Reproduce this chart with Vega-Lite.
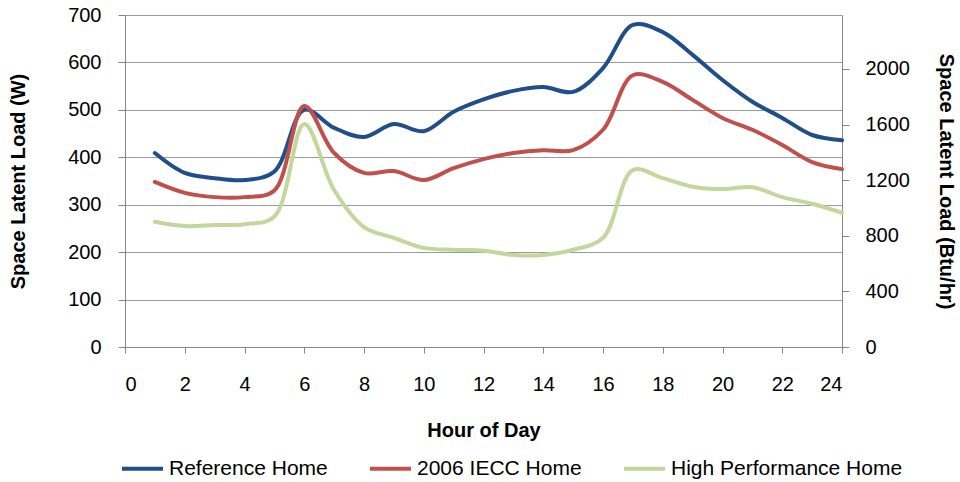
{
  "$schema": "https://vega.github.io/schema/vega-lite/v6.json",
  "width": 717,
  "height": 332,
  "autosize": {"type": "none"},
  "padding": {"top": 15, "left": 125, "right": 118, "bottom": 135},
  "background": "white",
  "config": {
    "view": {"stroke": null},
    "font": "Liberation Sans",
    "axis": {"labelFont": "Liberation Sans", "titleFont": "Liberation Sans", "labelColor": "#000", "titleColor": "#000"}
  },
  "data": {
    "values": [
      {"hour": 1, "series": "Reference Home", "load": 409},
      {"hour": 2, "series": "Reference Home", "load": 367},
      {"hour": 3, "series": "Reference Home", "load": 356},
      {"hour": 4, "series": "Reference Home", "load": 352},
      {"hour": 5, "series": "Reference Home", "load": 370},
      {"hour": 6, "series": "Reference Home", "load": 500},
      {"hour": 7, "series": "Reference Home", "load": 462},
      {"hour": 8, "series": "Reference Home", "load": 443},
      {"hour": 9, "series": "Reference Home", "load": 470},
      {"hour": 10, "series": "Reference Home", "load": 455},
      {"hour": 11, "series": "Reference Home", "load": 496},
      {"hour": 12, "series": "Reference Home", "load": 522},
      {"hour": 13, "series": "Reference Home", "load": 540},
      {"hour": 14, "series": "Reference Home", "load": 548},
      {"hour": 15, "series": "Reference Home", "load": 538},
      {"hour": 16, "series": "Reference Home", "load": 588},
      {"hour": 17, "series": "Reference Home", "load": 679},
      {"hour": 18, "series": "Reference Home", "load": 664},
      {"hour": 19, "series": "Reference Home", "load": 616},
      {"hour": 20, "series": "Reference Home", "load": 563},
      {"hour": 21, "series": "Reference Home", "load": 517},
      {"hour": 22, "series": "Reference Home", "load": 483},
      {"hour": 23, "series": "Reference Home", "load": 447},
      {"hour": 24, "series": "Reference Home", "load": 436},
      {"hour": 1, "series": "2006 IECC Home", "load": 348},
      {"hour": 2, "series": "2006 IECC Home", "load": 325},
      {"hour": 3, "series": "2006 IECC Home", "load": 316},
      {"hour": 4, "series": "2006 IECC Home", "load": 316},
      {"hour": 5, "series": "2006 IECC Home", "load": 330},
      {"hour": 6, "series": "2006 IECC Home", "load": 508},
      {"hour": 7, "series": "2006 IECC Home", "load": 409},
      {"hour": 8, "series": "2006 IECC Home", "load": 367},
      {"hour": 9, "series": "2006 IECC Home", "load": 371},
      {"hour": 10, "series": "2006 IECC Home", "load": 352},
      {"hour": 11, "series": "2006 IECC Home", "load": 377},
      {"hour": 12, "series": "2006 IECC Home", "load": 396},
      {"hour": 13, "series": "2006 IECC Home", "load": 409},
      {"hour": 14, "series": "2006 IECC Home", "load": 415},
      {"hour": 15, "series": "2006 IECC Home", "load": 415},
      {"hour": 16, "series": "2006 IECC Home", "load": 458},
      {"hour": 17, "series": "2006 IECC Home", "load": 573},
      {"hour": 18, "series": "2006 IECC Home", "load": 559},
      {"hour": 19, "series": "2006 IECC Home", "load": 521},
      {"hour": 20, "series": "2006 IECC Home", "load": 483},
      {"hour": 21, "series": "2006 IECC Home", "load": 458},
      {"hour": 22, "series": "2006 IECC Home", "load": 426},
      {"hour": 23, "series": "2006 IECC Home", "load": 390},
      {"hour": 24, "series": "2006 IECC Home", "load": 375},
      {"hour": 1, "series": "High Performance Home", "load": 264},
      {"hour": 2, "series": "High Performance Home", "load": 255},
      {"hour": 3, "series": "High Performance Home", "load": 257},
      {"hour": 4, "series": "High Performance Home", "load": 259},
      {"hour": 5, "series": "High Performance Home", "load": 275},
      {"hour": 6, "series": "High Performance Home", "load": 470},
      {"hour": 7, "series": "High Performance Home", "load": 331},
      {"hour": 8, "series": "High Performance Home", "load": 253},
      {"hour": 9, "series": "High Performance Home", "load": 230},
      {"hour": 10, "series": "High Performance Home", "load": 209},
      {"hour": 11, "series": "High Performance Home", "load": 205},
      {"hour": 12, "series": "High Performance Home", "load": 203},
      {"hour": 13, "series": "High Performance Home", "load": 194},
      {"hour": 14, "series": "High Performance Home", "load": 194},
      {"hour": 15, "series": "High Performance Home", "load": 205},
      {"hour": 16, "series": "High Performance Home", "load": 230},
      {"hour": 17, "series": "High Performance Home", "load": 373},
      {"hour": 18, "series": "High Performance Home", "load": 356},
      {"hour": 19, "series": "High Performance Home", "load": 338},
      {"hour": 20, "series": "High Performance Home", "load": 333},
      {"hour": 21, "series": "High Performance Home", "load": 337},
      {"hour": 22, "series": "High Performance Home", "load": 316},
      {"hour": 23, "series": "High Performance Home", "load": 302},
      {"hour": 24, "series": "High Performance Home", "load": 283}
    ]
  },
  "encoding": {
    "x": {
      "field": "hour",
      "type": "quantitative",
      "scale": {"domain": [0, 24], "nice": false, "zero": false},
      "axis": {
        "title": "Hour of Day",
        "values": [0, 2, 4, 6, 8, 10, 12, 14, 16, 18, 20, 22, 24],
        "grid": false,
        "domainColor": "#868686",
        "tickColor": "#868686",
        "tickSize": 6,
        "labelPadding": 21,
        "labelFontSize": 20,
        "titleFontSize": 20,
        "titleFontWeight": "bold",
        "titleX": 358.5,
        "titleY": 83,
        "titleBaseline": "middle"
      }
    }
  },
  "layer": [
    {
      "mark": {"type": "line", "interpolate": "catmull-rom", "strokeWidth": 4, "strokeCap": "round"},
      "encoding": {
        "y": {
          "field": "load",
          "type": "quantitative",
          "scale": {"domain": [0, 700], "nice": false},
          "axis": {
            "title": "Space Latent Load (W)",
            "values": [0, 100, 200, 300, 400, 500, 600, 700],
            "grid": true,
            "gridColor": "#9a9a9a",
            "domainColor": "#868686",
            "tickColor": "#868686",
            "tickSize": 7,
            "labelPadding": 17,
            "labelFontSize": 20,
            "titleFontSize": 20,
            "titleFontWeight": "bold",
            "titleAngle": 270,
            "titleX": -107,
            "titleY": 166,
            "titleBaseline": "middle",
            "titleAlign": "center"
          }
        },
        "color": {
          "field": "series",
          "type": "nominal",
          "scale": {
            "domain": ["Reference Home", "2006 IECC Home", "High Performance Home"],
            "range": ["#1F4E89", "#C0504D", "#C3D69B"]
          },
          "legend": {
            "title": null,
            "orient": "none",
            "direction": "horizontal",
            "legendX": -5,
            "legendY": 431,
            "symbolType": "stroke",
            "symbolSize": 1681,
            "symbolStrokeWidth": 4,
            "labelFontSize": 21,
            "labelColor": "#000",
            "labelFont": "Liberation Sans",
            "labelOffset": 4,
            "columnPadding": 34,
            "labelLimit": 400
          }
        }
      }
    },
    {
      "mark": {"type": "line", "opacity": 0},
      "encoding": {
        "y": {
          "field": "load",
          "type": "quantitative",
          "scale": {"domain": [0, 700], "nice": false},
          "axis": {
            "orient": "right",
            "title": "Space Latent Load (Btu/hr)",
            "values": [0, 117.233, 234.467, 351.7, 468.933, 586.166],
            "labelExpr": "format(round(datum.value * 3.412), 'd')",
            "grid": false,
            "domainColor": "#868686",
            "tickColor": "#868686",
            "tickSize": 7,
            "labelPadding": 16,
            "labelFontSize": 20,
            "titleFontSize": 20,
            "titleFontWeight": "bold",
            "titleAngle": 90,
            "titleX": 103,
            "titleY": 166,
            "titleBaseline": "middle",
            "titleAlign": "center"
          }
        },
        "detail": {"field": "series"}
      }
    }
  ],
  "resolve": {"scale": {"y": "independent"}, "axis": {"y": "independent"}}
}
